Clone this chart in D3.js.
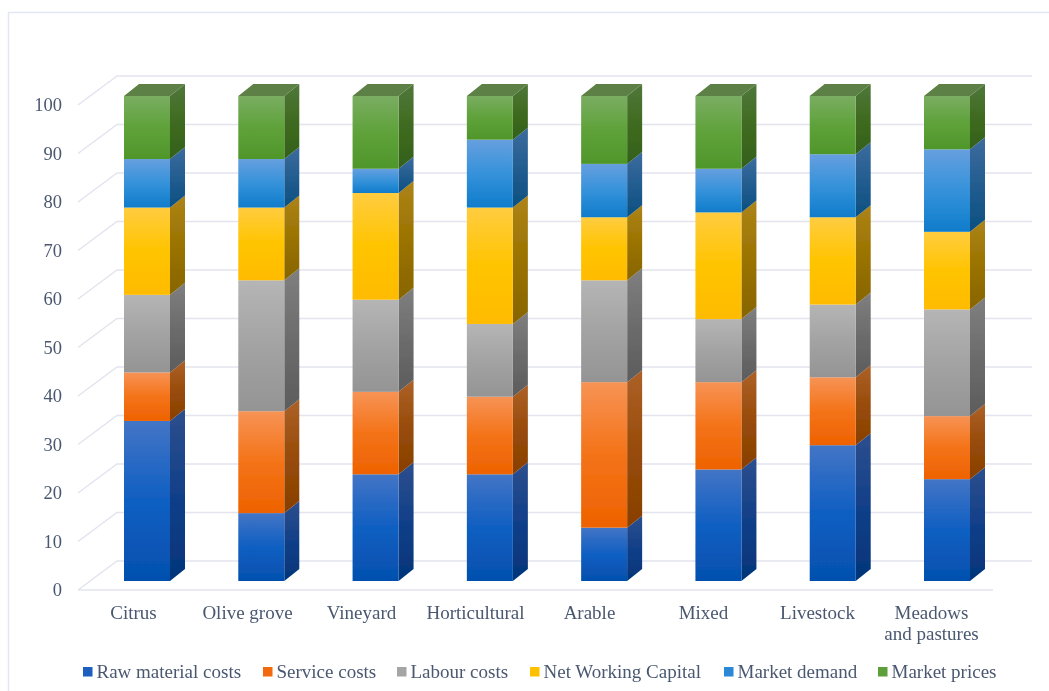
<!DOCTYPE html>
<html><head><meta charset="utf-8">
<script src="https://cdn.jsdelivr.net/npm/d3@7/dist/d3.min.js"></script>
<style>html,body{margin:0;padding:0;background:#fff;overflow:hidden}svg{display:block}
text{font-family:"Liberation Serif","Times New Roman",serif;fill:#4a5870}</style></head>
<body><svg id="c" width="1049" height="691"></svg>
<script>
const categories=["Citrus","Olive grove","Vineyard","Horticultural","Arable","Mixed","Livestock","Meadows and pastures"];
const seriesNames=["Raw material costs","Service costs","Labour costs","Net Working Capital","Market demand","Market prices"];
const rawMaterial=[33,14,22,22,11,23,28,21];
const service=[10,21,17,16,30,18,14,13];
const labour=[16,27,19,15,21,13,15,22];
const netWorking=[18,15,22,24,13,22,18,16];
const demand=[10,10,5,14,11,9,13,17];
const prices=[13,13,15,9,14,15,12,11];
const yTicks=[0,10,20,30,40,50,60,70,80,90,100];
const frontColors=[["#4375c6","#0f5fc2","#0450ae"],["#f79355","#f47318","#ee6200"],["#b5b5b5","#a3a3a3","#949494"],["#ffcc40","#ffc400","#ffbb00"],["#669fdf","#3592da","#0f7ccb"],["#7aad62","#5fa23a","#4f962a"]];
const sideColors=[["#2e4f8e","#113f88","#03357a"],["#ad6128","#984c0a","#873f00"],["#7f7f7f","#6c6c6c","#5c5c5c"],["#ad8418","#9a7300","#876400"],["#3d6c9e","#235d90","#0a4f80"],["#50773a","#3f6b20","#33601a"]];
const topColor="#5b8044", swatch=["#1a5fbe","#f26a0c","#a5a5a5","#ffc000","#2b88d6","#5da03a"];
const legendX=[83,263,397,530,724,878];

const values=[rawMaterial,service,labour,netWorking,demand,prices];
const svg=d3.select("#c"), defs=svg.append("defs");
const W=46, DX=15, DY=-12;
const xc=d3.scalePoint().domain(categories).range([124,924]);
const xl=d3.scalePoint().domain(categories).range([133.5,931.5]);
const y=d3.scaleLinear().domain([0,100]).range([581,96]);

function grad(id,cs){const g=defs.append("linearGradient").attr("id",id).attr("x1",0).attr("x2",0).attr("y1",0).attr("y2",1);
 cs.forEach((c,i)=>g.append("stop").attr("offset",i/(cs.length-1)).attr("stop-color",c));}
frontColors.forEach((c,i)=>grad("f"+i,c));
sideColors.forEach((c,i)=>grad("s"+i,c));
defs.append("filter").attr("id","soft").append("feGaussianBlur").attr("stdDeviation",0.5);
defs.append("filter").attr("id","softT").append("feGaussianBlur").attr("stdDeviation",0.3);

// frame
svg.append("path").attr("d","M1049,12.5H8.5V691").attr("fill","none").attr("stroke","#e4e6f2").attr("stroke-width",1.5);

const grid="#e3e4ee";
const g=svg.append("g").attr("filter","url(#soft)");
// walls
yTicks.forEach(t=>{
 const yb=y(t)-20, yf=y(t)+9;
 g.append("path").attr("d",`M78,${yf}L117,${yb}H1032`).attr("fill","none").attr("stroke",grid).attr("stroke-width",1.5);
});
g.append("path").attr("d",`M78,${y(0)+9}H993`).attr("fill","none").attr("stroke",grid).attr("stroke-width",1.5);

// bars
categories.forEach((c,i)=>{
 const bx=xc(c); let acc=0;
 values.forEach((v,s)=>{
  const y0=y(acc), y1=y(acc+v[i]); acc+=v[i];
  g.append("path").attr("d",`M${bx+W},${y0}L${bx+W+DX},${y0+DY}V${y1+DY}L${bx+W},${y1}Z`).attr("fill",`url(#s${s})`);
  g.append("rect").attr("x",bx).attr("y",y1).attr("width",W).attr("height",y0-y1).attr("fill",`url(#f${s})`);
 });
 const t=y(acc);
 g.append("path").attr("d",`M${bx},${t}L${bx+DX},${t+DY}H${bx+W+DX}L${bx+W},${t}Z`).attr("fill",topColor);
});

const tg=svg.append("g").attr("filter","url(#softT)");
// y axis
const ax=tg.append("g").attr("transform","translate(72,9)").call(d3.axisLeft(y).tickValues(yTicks).tickSize(0).tickPadding(10));
ax.select(".domain").remove();
ax.selectAll("text").attr("font-size",18.5).style("font-family",'"Liberation Serif",serif').attr("fill","#4a5870");

// x labels
categories.forEach(c=>{
 const lines=c==="Meadows and pastures"?["Meadows","and pastures"]:[c];
 lines.forEach((l,k)=>tg.append("text").attr("x",xl(c)).attr("y",619+k*21).attr("text-anchor","middle").attr("font-size",19).text(l));
});

// legend
seriesNames.forEach((n,i)=>{
 tg.append("rect").attr("x",legendX[i]).attr("y",667).attr("width",9.5).attr("height",9.5).attr("fill",swatch[i]);
 tg.append("text").attr("x",legendX[i]+13.5).attr("y",678).attr("font-size",19).text(n);
});
</script></body></html>
